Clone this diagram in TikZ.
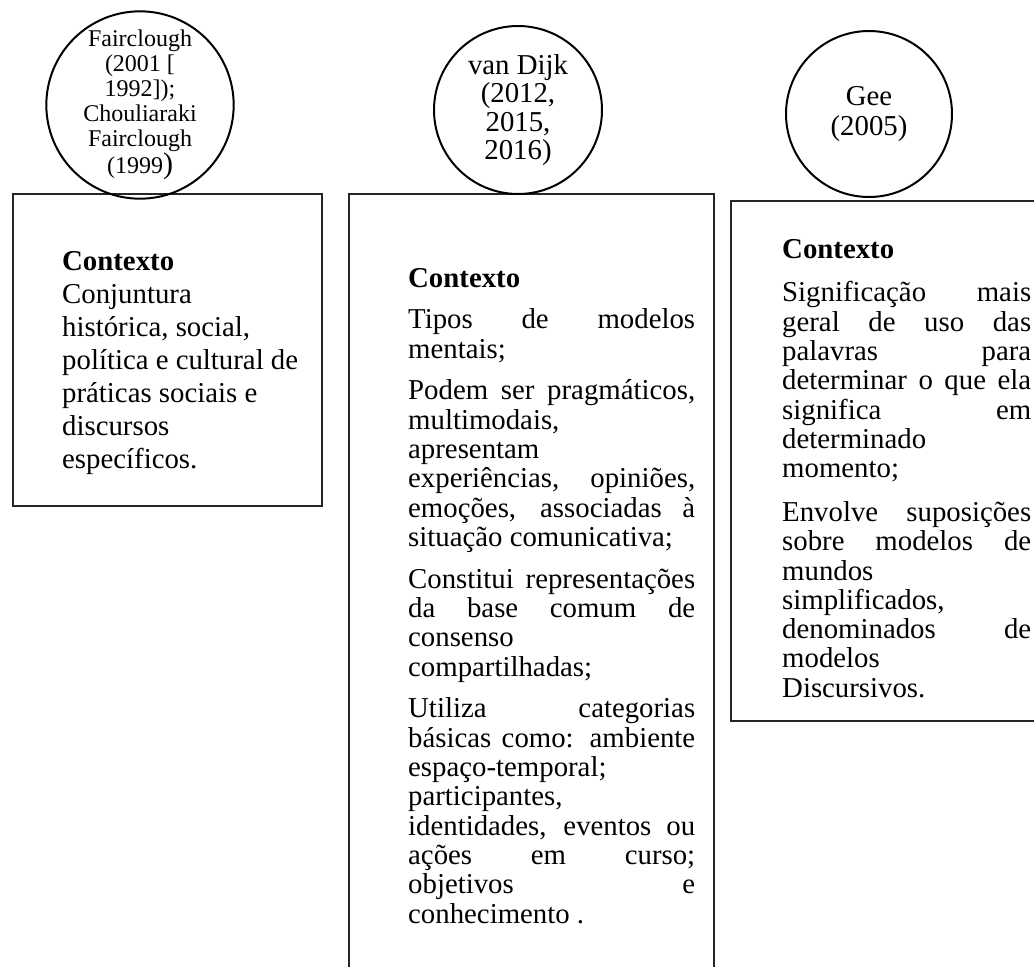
\documentclass[tikz,border=0pt]{standalone}
\usepackage{fontspec}
\setmainfont{Liberation Serif}
\begin{document}
\begin{tikzpicture}[x=1pt,y=-1pt,
  frame/.style={draw=black!85, line width=2.2pt, inner sep=0pt, anchor=north west},
  ring/.style={draw=black, line width=2pt, circle, inner sep=0pt, align=center},
  body/.style={inner sep=0pt, anchor=base west},
]
\clip (0,0) rectangle (1034,967);

% framed text columns
\node[frame, minimum width=309pt, minimum height=312pt] (b1) at (12,193) {};
\node[frame, minimum width=365pt, minimum height=800pt] (b2) at (348,193) {};
\node[frame, minimum width=340pt, minimum height=520pt] (b3) at (730,200) {};

% author circles
\node[ring, minimum size=186pt, font=\fontsize{24}{25}\selectfont] (c1) at (140,105)
  {Fairclough\\(2001 [\\1992]);\\Chouliaraki\\Fairclough\\(1999{\fontsize{30}{30}\selectfont)}};
\node[ring, minimum size=168pt, font=\fontsize{28.8}{28.5}\selectfont] (c2) at (518,110)
  {van Dijk\\(2012,\\2015,\\2016)};
\node[ring, minimum size=166pt, font=\fontsize{28.8}{29.5}\selectfont] (c3) at (869,114)
  {Gee\\(2005)};

% column texts
\node[body] (t1) at (62,270) {\parbox[t]{250pt}{\raggedright\fontsize{28.8}{33}\selectfont
\textbf{Contexto}\\
Conjuntura\\
histórica, social,\\
política e cultural de\\
práticas sociais e\\
discursos\\
específicos.}};

\node[body] (t2) at (408,287) {\parbox[t]{287pt}{\fontsize{28.8}{29.3}\selectfont\setlength{\parskip}{12.5pt}%
\textbf{Contexto}

Tipos de modelos\linebreak mentais;

Podem ser pragmáticos,\linebreak multimodais,\linebreak apresentam\linebreak experiências, opiniões,\linebreak emoções, associadas à\linebreak situação comunicativa;

Constitui representações\linebreak da base comum de\linebreak consenso\linebreak compartilhadas;

Utiliza categorias\linebreak básicas como: ambiente\linebreak espaço-temporal;\linebreak participantes,\linebreak identidades, eventos ou\linebreak ações em curso;\linebreak objetivos e\linebreak conhecimento .}};

\node[body] (t3) at (782,258) {\parbox[t]{249pt}{\fontsize{28.8}{29.3}\selectfont\setlength{\parskip}{14.5pt}%
\textbf{Contexto}

Significação mais\linebreak geral de uso das\linebreak palavras para\linebreak determinar o que ela\linebreak significa em\linebreak determinado\linebreak momento;

Envolve suposições\linebreak sobre modelos de\linebreak mundos\linebreak simplificados,\linebreak denominados de\linebreak modelos\linebreak Discursivos.}};
\end{tikzpicture}
\end{document}
